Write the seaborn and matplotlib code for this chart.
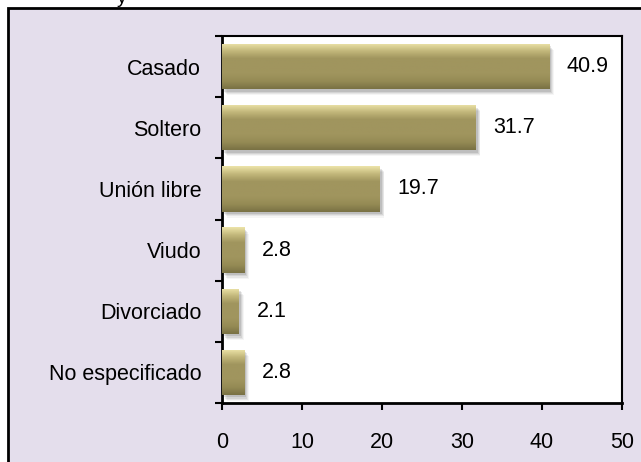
import numpy as np
import pandas as pd
import matplotlib
matplotlib.use("Agg")
import matplotlib.pyplot as plt
import seaborn as sns
from matplotlib.patches import Rectangle
from matplotlib.colors import LinearSegmentedColormap

# datos
categorias = ["Casado", "Soltero", "Unión libre", "Viudo", "Divorciado", "No especificado"]
porcentajes = [40.9, 31.7, 19.7, 2.8, 2.1, 2.8]
xticks = [0, 10, 20, 30, 40, 50]

df = pd.DataFrame({"estado": categorias, "pct": porcentajes})

sns.set_style("white")
plt.rcParams["font.family"] = ["Liberation Sans", "DejaVu Sans"]
plt.rcParams.update({"text.color": "black", "xtick.color": "black",
                     "ytick.color": "black", "axes.labelcolor": "black"})

fig = plt.figure(figsize=(6.41, 4.62), dpi=100)
fig.patch.set_facecolor("white")

# fondo lavanda con borde negro (se sale por la derecha y abajo)
W, H = 641, 462
fondo = Rectangle((8 / W, -0.05), 1.1, 1 - 8 / H + 0.05,
                  transform=fig.transFigure, facecolor="#E4DEEC",
                  edgecolor="black", linewidth=2, zorder=-5)
fig.patches.append(fondo)
fig.text(122 / W, 1 - 3 / H, "y", fontsize=14, va="baseline", ha="center", zorder=-4)

ax = fig.add_axes([222 / W, 1 - 403 / H, 400 / W, 367 / H])
ax.set_zorder(5)
ax.set_facecolor("white")

sns.barplot(data=df, y="estado", x="pct", orient="h", color="#A0955E",
            width=0.74, saturation=1, ax=ax, zorder=3)

# degradado tipo bisel para cada barra
cmap = LinearSegmentedColormap.from_list(
    "bisel", ["#ECE3A8", "#C2B77A", "#A0955E", "#A0955E", "#A0955E", "#958B55", "#7A7244"])
grad = np.linspace(0, 1, 64).reshape(-1, 1)
for p in list(ax.patches):
    x0, y0 = p.get_x(), p.get_y()
    w, h = p.get_width(), p.get_height()
    # sombra
    for k, a in enumerate([0.10, 0.08, 0.06, 0.04]):
        sh = Rectangle((x0 + 0.25 + k * 0.12, y0 + 0.04 + k * 0.02), w, h,
                       facecolor="black", alpha=a, edgecolor="none", zorder=2)
        ax.add_patch(sh)
    im = ax.imshow(grad, cmap=cmap, aspect="auto",
                   extent=(x0, x0 + w, y0 + h, y0), zorder=4)
    im.set_clip_path(p)
    p.set_edgecolor("none")

for i, v in enumerate(porcentajes):
    ax.text(v + 2.2, i, f"{v:.1f}", va="center", ha="left", fontsize=15.5, zorder=5)

ax.set_xlim(0, 50)
ax.set_ylim(5.5, -0.5)
ax.set_xticks(xticks)
ax.set_xticklabels([str(t) for t in xticks], fontsize=15.5)
ax.set_yticks(range(len(categorias)))
ax.set_yticklabels(categorias, fontsize=15.5)
ax.set_yticks(np.arange(-0.5, 6, 1), minor=True)
ax.tick_params(axis="y", which="major", length=0, pad=15)
ax.tick_params(axis="y", which="minor", length=5, width=1.5, direction="out", left=True)
ax.tick_params(axis="x", which="major", length=5, width=1.5, direction="out",
               bottom=True, pad=16)
ax.set_xlabel("")
ax.set_ylabel("")
for s in ax.spines.values():
    s.set_visible(True)
    s.set_color("black")
    s.set_linewidth(1.5)
ax.spines["left"].set_linewidth(2)
ax.spines["bottom"].set_linewidth(2)

fig.savefig("out.png", dpi=100)
